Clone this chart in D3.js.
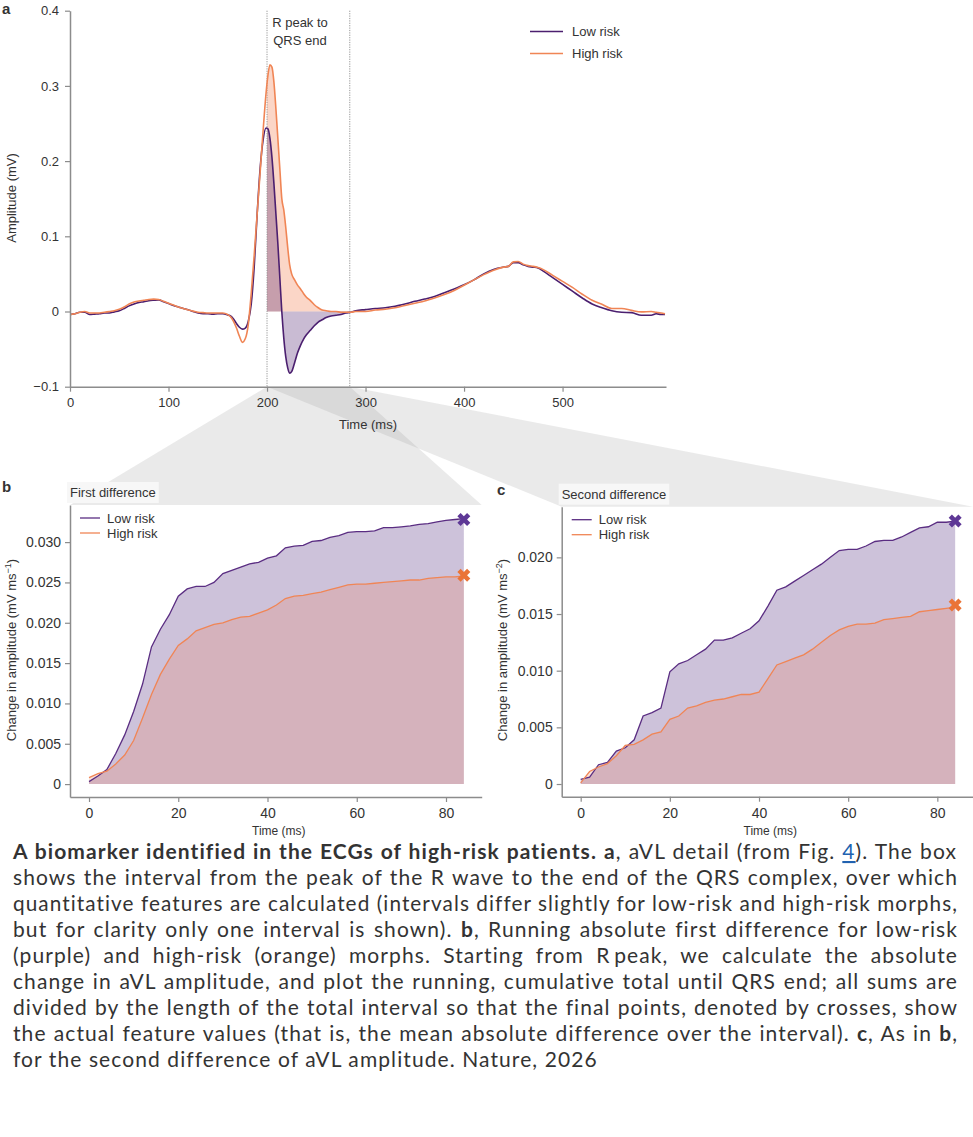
<!DOCTYPE html>
<html>
<head>
<meta charset="utf-8">
<script src="https://cdn.jsdelivr.net/npm/d3@7"></script>
<style>
  body { margin: 0; background: #fff; }
  svg text { font-family: "Liberation Sans", Arial, sans-serif; fill: #333; }
  .tick line, .domain { stroke: #8c8c8c; }
  .domain { stroke-width: 1.5; }
  .tick line { stroke-width: 1.2; }
</style>
</head>
<body>
<svg id="fig" width="973" height="1137"></svg>
<script>
// ---- data: panel a, aVL morphs (ms, mV)
const ecgTime = [0,5,10,15,20,25,30,35,40,45,50,55,60,65,70,75,80,85,90,95,100,105,110,115,120,125,130,135,140,145,150,155,160,163,166,169,172,175,178,181,184,187,190,193,196,199,201,203,205,207,209,211,213,215,217,219,221,223,225,228,231,234,237,240,244,248,252,256,260,265,270,275,280,285,290,300,310,320,330,340,350,360,370,380,390,400,410,420,430,440,445,450,455,460,465,470,475,480,490,500,510,520,530,540,550,560,570,580,590,595,600,604];
const ecgLow = [-0.004,-0.003,-0.001,-0.001,-0.004,-0.0035,-0.003,-0.002,-0.002,-0.0005,0.001,0.004,0.0075,0.010,0.012,0.013,0.0143,0.015,0.0155,0.013,0.0105,0.008,0.006,0.004,0.0023,0.000,-0.002,-0.003,-0.003,-0.0035,-0.003,-0.003,-0.0045,-0.006,-0.010,-0.016,-0.021,-0.0235,-0.022,-0.013,0.010,0.060,0.130,0.190,0.228,0.244,0.243,0.230,0.205,0.170,0.130,0.090,0.045,0.000,-0.035,-0.060,-0.075,-0.082,-0.080,-0.068,-0.055,-0.045,-0.037,-0.031,-0.025,-0.019,-0.014,-0.011,-0.008,-0.006,-0.005,-0.004,-0.002,-0.001,0.001,0.0025,0.004,0.005,0.007,0.010,0.0135,0.0165,0.020,0.025,0.030,0.0355,0.042,0.050,0.056,0.059,0.060,0.065,0.065,0.062,0.060,0.059,0.058,0.054,0.045,0.036,0.027,0.018,0.010,0.005,0.001,-0.001,-0.0015,-0.005,-0.005,-0.003,-0.004,-0.004];
const ecgHigh = [-0.004,-0.003,-0.001,0.000,-0.002,-0.002,-0.002,-0.001,0.000,0.001,0.003,0.006,0.010,0.0125,0.014,0.015,0.016,0.0165,0.016,0.0135,0.011,0.0085,0.006,0.004,0.002,0.0005,-0.001,-0.0015,-0.002,-0.002,-0.002,-0.002,-0.004,-0.007,-0.013,-0.022,-0.033,-0.041,-0.036,-0.017,0.025,0.075,0.130,0.185,0.240,0.290,0.315,0.328,0.325,0.305,0.270,0.230,0.190,0.150,0.135,0.112,0.085,0.062,0.050,0.042,0.035,0.030,0.024,0.019,0.0145,0.009,0.005,0.002,0.001,0.000,0.000,-0.001,-0.001,-0.001,0.000,0.000,0.002,0.003,0.005,0.008,0.011,0.014,0.018,0.0225,0.028,0.035,0.042,0.049,0.055,0.059,0.060,0.066,0.0665,0.063,0.061,0.060,0.0585,0.056,0.048,0.040,0.032,0.023,0.015,0.0095,0.004,0.004,0.0015,-0.0005,0.000,-0.001,-0.002,-0.003];
const rPeak = 200, qrsEnd = 284;

// ---- data: panels b, c (ms since R peak)
const diffTime = [0,2,4,6,8,10,12,14,16,18,20,22,24,26,28,30,32,34,36,38,40,42,44,46,48,50,52,54,56,58,60,62,64,66,68,70,72,74,76,78,80,82,84];
const firstLow = [0.0003,0.0010,0.0018,0.0038,0.0061,0.0090,0.0124,0.0170,0.0192,0.0210,0.0233,0.0242,0.0245,0.0245,0.0250,0.0261,0.0265,0.0269,0.0273,0.0275,0.0280,0.0283,0.0293,0.0295,0.0296,0.0301,0.0302,0.0306,0.0308,0.0312,0.0313,0.0313,0.0314,0.0318,0.0318,0.0319,0.0320,0.0322,0.0323,0.0325,0.0327,0.0328,0.0329];
const firstHigh = [0.0008,0.0013,0.0016,0.0025,0.0036,0.0054,0.0082,0.0111,0.0136,0.0155,0.0172,0.0180,0.0190,0.0194,0.0198,0.0200,0.0204,0.0207,0.0208,0.0212,0.0216,0.0222,0.0230,0.0233,0.0234,0.0236,0.0238,0.0241,0.0244,0.0247,0.0248,0.0248,0.0249,0.0250,0.0251,0.0252,0.0253,0.0253,0.0255,0.0256,0.0257,0.0257,0.0258];
const secondLow = [0.0004,0.0006,0.0017,0.0019,0.0029,0.0032,0.0039,0.0060,0.0063,0.0067,0.0099,0.0106,0.0109,0.0114,0.0119,0.0127,0.0127,0.0129,0.0133,0.0137,0.0144,0.0157,0.0171,0.0174,0.0179,0.0184,0.0189,0.0194,0.0200,0.0206,0.0207,0.0207,0.0210,0.0214,0.0215,0.0215,0.0218,0.0222,0.0226,0.0227,0.0231,0.0231,0.0232];
const secondHigh = [0.0001,0.0011,0.0015,0.0018,0.0025,0.0034,0.0035,0.0039,0.0044,0.0046,0.0057,0.0060,0.0067,0.0069,0.0072,0.0074,0.0075,0.0077,0.0079,0.0079,0.0081,0.0093,0.0105,0.0108,0.0111,0.0114,0.0119,0.0125,0.0131,0.0136,0.0139,0.0141,0.0141,0.0142,0.0145,0.0146,0.0147,0.0148,0.0152,0.0153,0.0154,0.0155,0.0156];
const crossTime = 84;
const firstFeature = [0.0328, 0.0259];   // low, high
const secondFeature = [0.0232, 0.0158];

const seriesNames = ["Low risk", "High risk"];
const ticksA_x = [0, 100, 200, 300, 400, 500];
const ticksA_y = [-0.1, 0, 0.1, 0.2, 0.3, 0.4];
const ticksBC_x = [0, 20, 40, 60, 80];
const ticksB_y = [0, 0.005, 0.010, 0.015, 0.020, 0.025, 0.030];
const ticksC_y = [0, 0.005, 0.010, 0.015, 0.020];

// ---- styles
const purple = "#4b1f6f", orange = "#f08555";
const purpleB = "#5a2d82";
const crossPurple = "#5e3896", crossOrange = "#ea7437";

const svg = d3.select("#fig");
const minus = s => s.replace("-", "\u2212");
const fmtY = f => d => d === 0 ? "0" : minus(d3.format(f)(d));

// scales
const xA = d3.scaleLinear().domain([0, 605]).range([70, 666]);
const yA = d3.scaleLinear().domain([-0.1, 0.4]).range([386.7, 10.7]);
const xB = d3.scaleLinear().domain([-4.26, 88]).range([70, 481.7]);
const yB = d3.scaleLinear().domain([-0.0016, 0.0346]).range([797, 505]);
const xC = d3.scaleLinear().domain([-4.26, 88]).range([561.7, 973]);
const yC = d3.scaleLinear().domain([-0.00112, 0.02447]).range([796.7, 506.7]);

// ---- zoom wedges (drawn first, underneath)
const wedgeTop = [[xA(rPeak), yA.range()[0]], [xA(qrsEnd), yA.range()[0]]];
const wedges = [[xB, yB], [xC, yC]].map(([x, y]) => [
  wedgeTop[0], wedgeTop[1], [x.range()[1], y.range()[1]], [x.range()[0], y.range()[1]]
]);
svg.append("g").selectAll("polygon").data(wedges).join("polygon")
  .attr("points", d => d.map(p => p.join(",")).join(" "))
  .attr("fill", "#969696").attr("fill-opacity", 0.2);

// ---- panel a
const gA = svg.append("g");
const ptsLow = ecgTime.map((t, i) => [t, ecgLow[i]]);
const ptsHigh = ecgTime.map((t, i) => [t, ecgHigh[i]]);

svg.append("defs").append("clipPath").attr("id", "interval")
  .append("rect")
  .attr("x", xA(rPeak)).attr("width", xA(qrsEnd) - xA(rPeak))
  .attr("y", yA.range()[1]).attr("height", yA.range()[0] - yA.range()[1]);

const areaA = d3.area().x(d => xA(d[0])).y0(yA(0)).y1(d => yA(d[1])).curve(d3.curveMonotoneX);
const lineA = d3.line().x(d => xA(d[0])).y(d => yA(d[1])).curve(d3.curveMonotoneX);

gA.append("path").datum(ptsHigh).attr("d", areaA).attr("clip-path", "url(#interval)")
  .attr("fill", "#f4895f").attr("fill-opacity", 0.35);
gA.append("path").datum(ptsLow).attr("d", areaA).attr("clip-path", "url(#interval)")
  .attr("fill", "#4b1e6e").attr("fill-opacity", 0.3);

// interval markers
gA.selectAll(".ivl").data([rPeak, qrsEnd]).join("line").attr("class", "ivl")
  .attr("x1", d => xA(d)).attr("x2", d => xA(d))
  .attr("y1", yA.range()[1]).attr("y2", yA.range()[0])
  .attr("stroke", "#8a8a8a").attr("stroke-width", 0.9).attr("stroke-dasharray", "1.2,1.2");

gA.append("path").datum(ptsLow).attr("d", lineA).attr("fill", "none")
  .attr("stroke", purple).attr("stroke-width", 1.6);
gA.append("path").datum(ptsHigh).attr("d", lineA).attr("fill", "none")
  .attr("stroke", orange).attr("stroke-width", 1.6);

gA.append("g").attr("transform", `translate(0,${yA.range()[0]})`)
  .call(d3.axisBottom(xA).tickValues(ticksA_x).tickSize(5).tickPadding(6).tickSizeOuter(0))
  .call(g => g.selectAll("text").attr("font-size", 13).attr("fill", "#333"));
gA.append("g").attr("transform", `translate(${xA.range()[0]},0)`)
  .call(d3.axisLeft(yA).tickValues(ticksA_y).tickFormat(fmtY(".1f")).tickSize(5).tickPadding(6).tickSizeOuter(0))
  .call(g => g.selectAll("text").attr("font-size", 13).attr("fill", "#333"));

gA.append("text").attr("x", 368).attr("y", 429).attr("text-anchor", "middle")
  .attr("font-size", 13).text("Time (ms)");
gA.append("text").attr("transform", "translate(16,198) rotate(-90)").attr("text-anchor", "middle")
  .attr("font-size", 13).text("Amplitude (mV)");
gA.append("text").attr("x", 300).attr("y", 27).attr("text-anchor", "middle").attr("font-size", 13).text("R peak to");
gA.append("text").attr("x", 300).attr("y", 45).attr("text-anchor", "middle").attr("font-size", 13).text("QRS end");

const legA = gA.append("g").selectAll("g").data(seriesNames).join("g")
  .attr("transform", (d, i) => `translate(530,${31.5 + i * 22})`);
legA.append("line").attr("x2", 33).attr("stroke", (d, i) => i ? orange : purple).attr("stroke-width", 1.6);
legA.append("text").attr("x", 42).attr("y", 4.5).attr("font-size", 13).text(d => d);

// ---- panels b and c
function diffPanel(x, y, low, high, feature, yTicks, yFmt, title, exponent, labelX) {
  const g = svg.append("g");
  const pl = diffTime.map((t, i) => [t, low[i]]);
  const ph = diffTime.map((t, i) => [t, high[i]]);
  const area = d3.area().x(d => x(d[0])).y0(y(0)).y1(d => y(d[1]));
  const line = d3.line().x(d => x(d[0])).y(d => y(d[1]));

  g.append("path").datum(pl).attr("d", area).attr("fill", "#522d80").attr("fill-opacity", 0.29);
  g.append("path").datum(ph).attr("d", area).attr("fill", "#f0805a").attr("fill-opacity", 0.24);
  g.append("path").datum(pl).attr("d", line).attr("fill", "none").attr("stroke", purpleB).attr("stroke-width", 1.3);
  g.append("path").datum(ph).attr("d", line).attr("fill", "none").attr("stroke", orange).attr("stroke-width", 1.3);

  const sym = d3.symbol().type(d3.symbolCross).size(105);
  g.selectAll(".cross").data(feature).join("path").attr("class", "cross")
    .attr("d", sym)
    .attr("transform", d => `translate(${x(crossTime)},${y(d)}) rotate(45)`)
    .attr("fill", (d, i) => i ? crossOrange : crossPurple);

  g.append("g").attr("transform", `translate(0,${y.range()[0]})`)
    .call(d3.axisBottom(x).tickValues(ticksBC_x).tickSize(5).tickPadding(6).tickSizeOuter(0))
    .call(s => s.selectAll("text").attr("font-size", 14).attr("fill", "#333"));
  g.append("g").attr("transform", `translate(${x.range()[0]},0)`)
    .call(d3.axisLeft(y).tickValues(yTicks).tickFormat(yFmt).tickSize(5).tickPadding(4).tickSizeOuter(0))
    .call(s => s.selectAll("text").attr("font-size", 14).attr("fill", "#333"));

  const x0 = x.range()[0], top = y.range()[1];
  g.append("text").attr("x", (x.range()[0] + x.range()[1]) / 2 + 3).attr("y", 835)
    .attr("text-anchor", "middle").attr("font-size", 12).text("Time (ms)");

  const yl = g.append("text").attr("transform", `translate(${labelX},650) rotate(-90)`)
    .attr("text-anchor", "middle").attr("font-size", 13);
  yl.append("tspan").text("Change in amplitude (mV ms");
  yl.append("tspan").attr("font-size", 9).attr("dy", -5).text("\u2212" + exponent);
  yl.append("tspan").attr("dy", 5).text(")");

  // title box
  const tb = g.append("g").attr("transform", `translate(${x0 - 3},${top - 23})`);
  const rect = tb.append("rect").attr("height", 21).attr("fill", "#f7f7f7");
  const tt = tb.append("text").attr("x", 3).attr("y", 15).attr("font-size", 13).attr("fill", "#222").text(title);
  rect.attr("width", tt.node().getComputedTextLength() + 6);

  const leg = g.append("g").selectAll("g").data(seriesNames).join("g")
    .attr("transform", (d, i) => `translate(${x0 + 10},${top + 13 + i * 15})`);
  leg.append("line").attr("x2", 20).attr("stroke", (d, i) => i ? orange : purpleB).attr("stroke-width", 1.3);
  leg.append("text").attr("x", 27).attr("y", 4.5).attr("font-size", 13).text(d => d);
}

diffPanel(xB, yB, firstLow, firstHigh, firstFeature, ticksB_y, fmtY(".3f"), "First difference", "1", 16);
diffPanel(xC, yC, secondLow, secondHigh, secondFeature, ticksC_y, fmtY(".3f"), "Second difference", "2", 507);

// panel letters
svg.selectAll(".plab").data([["a", 2, 14], ["b", 2, 492], ["c", 497, 495]]).join("text")
  .attr("class", "plab").attr("x", d => d[1]).attr("y", d => d[2])
  .attr("font-size", 15).attr("font-weight", "bold").attr("fill", "#111").text(d => d[0]);

// ---- caption
const captionLines = [
  [["A biomarker identified in the ECGs of high-risk patients.", "b"], [" ", ""], ["a", "b"], [", aVL detail (from Fig. ", ""], ["4", "link"], ["). The box", ""]],
  [["shows the interval from the peak of the R wave to the end of the QRS complex, over which", ""]],
  [["quantitative features are calculated (intervals differ slightly for low-risk and high-risk morphs,", ""]],
  [["but for clarity only one interval is shown). ", ""], ["b", "b"], [", Running absolute first difference for low-risk", ""]],
  [["(purple) and high-risk (orange) morphs. Starting from R\u2009peak, we calculate the absolute", ""]],
  [["change in aVL amplitude, and plot the running, cumulative total until QRS end; all sums are", ""]],
  [["divided by the length of the total interval so that the final points, denoted by crosses, show", ""]],
  [["the actual feature values (that is, the mean absolute difference over the interval). ", ""], ["c", "b"], [", As in ", ""], ["b", "b"], [",", ""]],
  [["for the second difference of aVL amplitude. Nature, 2026", ""]]
];
const capX = 13, capW = 945, capLastW = 584, capY = 859, capLead = 26;
const cap = svg.append("g").attr("font-size", 21);
const capTexts = captionLines.map((segs, i) => {
  const t = cap.append("text").attr("x", capX).attr("y", capY + i * capLead)
    .style("font-family", "Lato, 'Open Sans', sans-serif").attr("fill", "#111");
  segs.forEach(([s, k]) => {
    const ts = t.append("tspan").text(s);
    if (k === "b") ts.attr("font-weight", "bold");
    if (k === "link") ts.attr("fill", "#2162b0").style("text-decoration", "underline");
  });
  return t;
});
// letter spacing taken from the unjustified last line
const lastLine = capTexts[capTexts.length - 1];
const nChars = captionLines[captionLines.length - 1].map(d => d[0]).join("").length;
const ls = Math.max(0, (capLastW - lastLine.node().getBBox().width) / nChars);
cap.attr("letter-spacing", ls);
capTexts.forEach((t, i) => {
  if (i === capTexts.length - 1) return;
  const w = t.node().getBBox().width;
  const spaces = captionLines[i].map(d => d[0]).join("").split(" ").length - 1;
  if (w <= capW) t.attr("word-spacing", (capW - w) / spaces);
  else t.attr("textLength", capW).attr("lengthAdjust", "spacingAndGlyphs");
});
</script>
</body>
</html>
